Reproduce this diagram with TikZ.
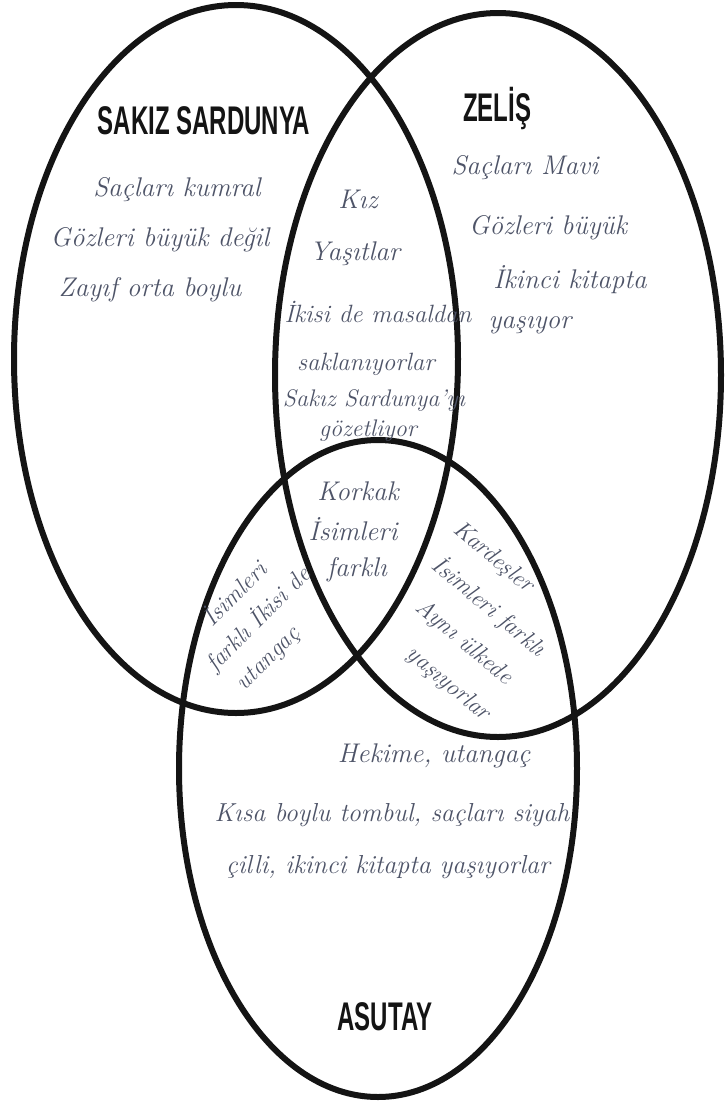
\documentclass[tikz,border=0pt]{standalone}
\usepackage{fontspec}
\newfontfamily\labfont{Liberation Sans}
\definecolor{handc}{RGB}{78,84,104}
\definecolor{ink}{RGB}{20,20,20}
\newcommand{\labtext}[1]{\scalebox{0.6}[1]{\labfont\bfseries\fontsize{40}{40}\selectfont #1}}
\begin{document}
\begin{tikzpicture}[x=1pt,y=-1pt,
  ring/.style={line width=6pt, draw=ink},
  hand/.style={font=\itshape\fontsize{27}{30}\selectfont, text=handc, inner sep=0pt, anchor=base},
  rhand/.style={text=handc, inner sep=0pt, align=left},
  lab/.style={inner sep=0pt, text=ink, anchor=base}]
\useasboundingbox (0,0) rectangle (724,1104);
\fill[white] (0,0) rectangle (724,1104);
% circles
\draw[ring] (236,359) ellipse [x radius=222, y radius=354];
\draw[ring] (498,375) ellipse [x radius=223, y radius=362];
\draw[ring] (378,768.5) ellipse [x radius=199, y radius=328.5];
% labels
\node[lab] (ss) at (204,134) {\labtext{SAKIZ SARDUNYA}};
\node[lab] (ze) at (497,121) {\labtext{ZELİŞ}};
\node[lab] (as) at (385,1030) {\labtext{ASUTAY}};
% Sakiz Sardunya only
\node[hand] (s1) at (177,196) {Saçları kumral};
\node[hand] (s2) at (160,246) {Gözleri büyük değil};
\node[hand] (s3) at (150,296) {Zayıf orta boylu};
% Zelis only
\node[hand] (z1) at (525,174) {Saçları Mavi};
\node[hand] (z2) at (548,234) {Gözleri büyük};
\node[hand] (z3) at (570,288) {İkinci kitapta};
\node[hand] (z4) at (530,328) {yaşıyor};
% Sakiz & Zelis
\node[hand] (sz1) at (358,208) {Kız};
\node[hand] (sz2) at (355,260) {Yaşıtlar};
\node[hand, font=\itshape\fontsize{25}{30}\selectfont] (sz3) at (378,322) {İkisi de masaldan};
\node[hand, font=\itshape\fontsize{25}{30}\selectfont] (sz4) at (366,370) {saklanıyorlar};
\node[hand, font=\itshape\fontsize{24}{30}\selectfont] (sz5) at (374,406) {Sakız Sardunya'yı};
\node[hand, font=\itshape\fontsize{24}{30}\selectfont] (sz6) at (368,436) {gözetliyor};
% all three
\node[hand] (a1) at (358,500) {Korkak};
\node[hand] (a2) at (353,540) {İsimleri};
\node[hand] (a3) at (357,576) {farklı};
% Sakiz & Asutay
\node[rhand, rotate=45, font=\itshape\fontsize{24}{34}\selectfont] (sa) at (258,619)
  {\hspace*{30pt}İsimleri\\farklı İkisi de\\\hspace*{8pt}utangaç};
% Zelis & Asutay
\node[rhand, rotate=-40, font=\itshape\fontsize{24}{42}\selectfont] (za) at (472,622)
  {Kardeşler\\\hspace*{6pt}İsimleri farklı\\\hspace*{21pt}Aynı ülkede\\\hspace*{44pt}yaşıyorlar};
% Asutay only
\node[hand] (u1) at (434,762) {Hekime, utangaç};
\node[hand, font=\itshape\fontsize{26}{30}\selectfont] (u2) at (392,821) {Kısa boylu tombul, saçları siyah};
\node[hand, font=\itshape\fontsize{26}{30}\selectfont] (u3) at (388,873) {çilli, ikinci kitapta yaşıyorlar};
\end{tikzpicture}
\end{document}
